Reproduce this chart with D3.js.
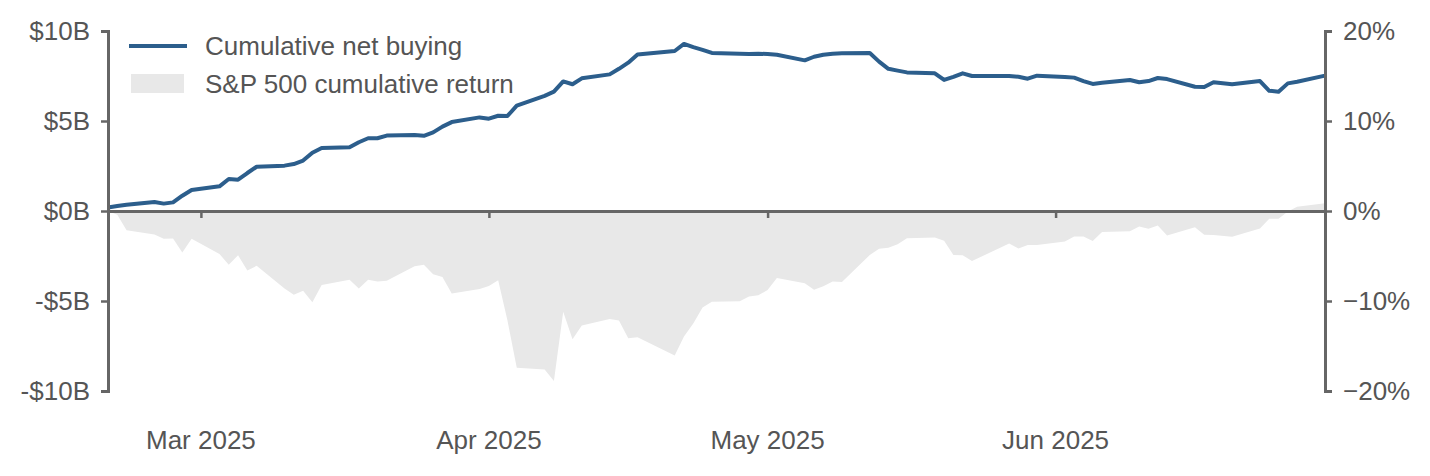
<!DOCTYPE html>
<html>
<head>
<meta charset="utf-8">
<script src="https://cdn.jsdelivr.net/npm/d3@7"></script>
<style>
  html, body { margin: 0; padding: 0; background: #fff; }
  svg { display: block; font-family: "Liberation Sans", Arial, sans-serif; }
</style>
</head>
<body>
<svg id="chart" width="1430" height="476"></svg>
<script>
// ---- data ----
const dates = [
  "2025-02-19","2025-02-20","2025-02-21","2025-02-24","2025-02-25","2025-02-26","2025-02-27","2025-02-28",
  "2025-03-03","2025-03-04","2025-03-05","2025-03-06","2025-03-07","2025-03-10","2025-03-11","2025-03-12",
  "2025-03-13","2025-03-14","2025-03-17","2025-03-18","2025-03-19","2025-03-20","2025-03-21","2025-03-24",
  "2025-03-25","2025-03-26","2025-03-27","2025-03-28","2025-03-31","2025-04-01","2025-04-02","2025-04-03",
  "2025-04-04","2025-04-07","2025-04-08","2025-04-09","2025-04-10","2025-04-11","2025-04-14","2025-04-15",
  "2025-04-16","2025-04-17","2025-04-21","2025-04-22","2025-04-23","2025-04-24","2025-04-25","2025-04-28",
  "2025-04-29","2025-04-30","2025-05-01","2025-05-02","2025-05-05","2025-05-06","2025-05-07","2025-05-08",
  "2025-05-09","2025-05-12","2025-05-13","2025-05-14","2025-05-15","2025-05-16","2025-05-19","2025-05-20",
  "2025-05-21","2025-05-22","2025-05-23","2025-05-27","2025-05-28","2025-05-29","2025-05-30","2025-06-02",
  "2025-06-03","2025-06-04","2025-06-05","2025-06-06","2025-06-09","2025-06-10","2025-06-11","2025-06-12",
  "2025-06-13","2025-06-16","2025-06-17","2025-06-18","2025-06-20","2025-06-23","2025-06-24","2025-06-25",
  "2025-06-26","2025-06-27","2025-06-30"
];

// cumulative net buying, $B
const netBuying = [
  0.20,0.28,0.35,0.50,0.41,0.48,0.85,1.17,
  1.37,1.78,1.74,2.11,2.46,2.52,2.61,2.80,
  3.24,3.50,3.54,3.82,4.04,4.04,4.19,4.22,
  4.18,4.37,4.69,4.94,5.20,5.13,5.29,5.28,
  5.85,6.40,6.63,7.20,7.04,7.37,7.59,7.90,
  8.24,8.70,8.89,9.28,9.10,8.95,8.78,8.74,
  8.72,8.74,8.72,8.68,8.37,8.57,8.68,8.74,
  8.76,8.78,8.30,7.90,7.80,7.70,7.65,7.28,
  7.45,7.65,7.50,7.50,7.46,7.35,7.52,7.45,
  7.41,7.22,7.06,7.12,7.28,7.15,7.22,7.39,
  7.33,6.90,6.89,7.15,7.04,7.22,6.68,6.63,
  7.09,7.18,7.52
];

// S&P 500 cumulative return, %
const spReturn = [
  0.00,-0.43,-2.13,-2.62,-3.07,-3.06,-4.60,-3.09,
  -4.79,-5.96,-4.91,-6.60,-6.09,-8.62,-9.31,-8.87,
  -10.13,-8.22,-7.63,-8.62,-7.63,-7.83,-7.76,-6.13,
  -5.98,-7.03,-7.34,-9.17,-8.66,-8.32,-7.70,-12.17,
  -17.42,-17.61,-18.90,-11.19,-14.26,-12.71,-12.01,-12.17,
  -14.13,-14.02,-16.05,-13.94,-12.50,-10.73,-10.07,-10.02,
  -9.49,-9.36,-8.79,-7.45,-8.04,-8.74,-8.35,-7.82,
  -7.88,-4.88,-4.19,-4.09,-3.70,-3.02,-2.94,-3.31,
  -4.88,-4.92,-5.56,-3.62,-4.16,-3.78,-3.78,-3.39,
  -2.83,-2.82,-3.33,-2.34,-2.25,-1.71,-1.98,-1.61,
  -2.72,-1.81,-2.63,-2.66,-2.87,-1.94,-0.85,-0.85,
  -0.05,0.47,0.85
];

const leftTicks = [10, 5, 0, -5, -10];
const leftTickLabels = ["$10B", "$5B", "$0B", "-$5B", "-$10B"];
const rightTicks = [20, 10, 0, -10, -20];
const rightTickLabels = ["20%", "10%", "0%", "\u221210%", "\u221220%"];
const monthTicks = ["2025-03-01", "2025-04-01", "2025-05-01", "2025-06-01"];
const monthLabels = ["Mar 2025", "Apr 2025", "May 2025", "Jun 2025"];
const legendLabels = ["Cumulative net buying", "S&P 500 cumulative return"];

// ---- setup ----
const parse = d3.utcParse("%Y-%m-%d");
const rows = dates.map((d, i) => ({ date: parse(d), net: netBuying[i], sp: spReturn[i] }));

const W = 1430, H = 476;
const margin = { left: 108, right: 105, top: 31, bottom: 85 };
const svg = d3.select("#chart");

const x = d3.scaleUtc()
  .domain([parse("2025-02-19"), parse("2025-06-30")])
  .range([margin.left, W - margin.right]);
const yL = d3.scaleLinear().domain([-10, 10]).range([H - margin.bottom, margin.top]);
const yR = d3.scaleLinear().domain([-20, 20]).range([H - margin.bottom, margin.top]);

const axisColor = "#666666";
const textColor = "#555555";
const fontSize = 26;

// area (S&P)
svg.append("path")
  .datum(rows)
  .attr("fill", "#e8e8e8")
  .attr("d", d3.area().x(d => x(d.date)).y0(yR(0)).y1(d => yR(d.sp)));

// line (net buying)
svg.append("path")
  .datum(rows)
  .attr("fill", "none")
  .attr("stroke", "#2c5e8c")
  .attr("stroke-width", 4)
  .attr("stroke-linejoin", "round")
  .attr("d", d3.line().x(d => x(d.date)).y(d => yL(d.net)));

// zero axis with downward ticks
const gx = svg.append("g")
  .attr("transform", `translate(0,${yL(0)})`)
  .call(d3.axisBottom(x).tickValues(monthTicks.map(parse)).tickSize(7).tickSizeOuter(0).tickFormat(""));
gx.select(".domain").attr("stroke", axisColor).attr("stroke-width", 3);
gx.selectAll(".tick line").attr("stroke", axisColor).attr("stroke-width", 2.5);

// month labels at bottom
svg.append("g").selectAll("text")
  .data(monthTicks)
  .join("text")
  .attr("x", d => x(parse(d)))
  .attr("y", 449)
  .attr("text-anchor", "middle")
  .attr("fill", textColor)
  .attr("font-size", fontSize)
  .text((d, i) => monthLabels[i]);

// left axis
const gl = svg.append("g")
  .attr("transform", `translate(${margin.left},0)`)
  .call(d3.axisLeft(yL).tickValues(leftTicks).tickSize(7).tickPadding(11)
    .tickFormat((d, i) => leftTickLabels[i]));
gl.select(".domain").attr("stroke", axisColor).attr("stroke-width", 3);
gl.selectAll(".tick line").attr("stroke", axisColor).attr("stroke-width", 2.5);
gl.selectAll(".tick text").attr("fill", textColor).attr("font-size", fontSize)
  .attr("font-family", "Liberation Sans, Arial, sans-serif");

// right axis
const gr = svg.append("g")
  .attr("transform", `translate(${W - margin.right},0)`)
  .call(d3.axisRight(yR).tickValues(rightTicks).tickSize(7).tickPadding(11)
    .tickFormat((d, i) => rightTickLabels[i]));
gr.select(".domain").attr("stroke", axisColor).attr("stroke-width", 3);
gr.selectAll(".tick line").attr("stroke", axisColor).attr("stroke-width", 2.5);
gr.selectAll(".tick text").attr("fill", textColor).attr("font-size", fontSize)
  .attr("font-family", "Liberation Sans, Arial, sans-serif");

// legend
const lg = svg.append("g");
lg.append("line").attr("x1", 129).attr("x2", 187).attr("y1", 46).attr("y2", 46)
  .attr("stroke", "#2c5e8c").attr("stroke-width", 4);
lg.append("rect").attr("x", 131).attr("y", 74).attr("width", 53).attr("height", 19)
  .attr("fill", "#e8e8e8");
lg.selectAll("text")
  .data(legendLabels)
  .join("text")
  .attr("x", 205)
  .attr("y", (d, i) => 46 + i * 38)
  .attr("dy", "0.35em")
  .attr("fill", textColor)
  .attr("font-size", fontSize)
  .text(d => d);
</script>
</body>
</html>
